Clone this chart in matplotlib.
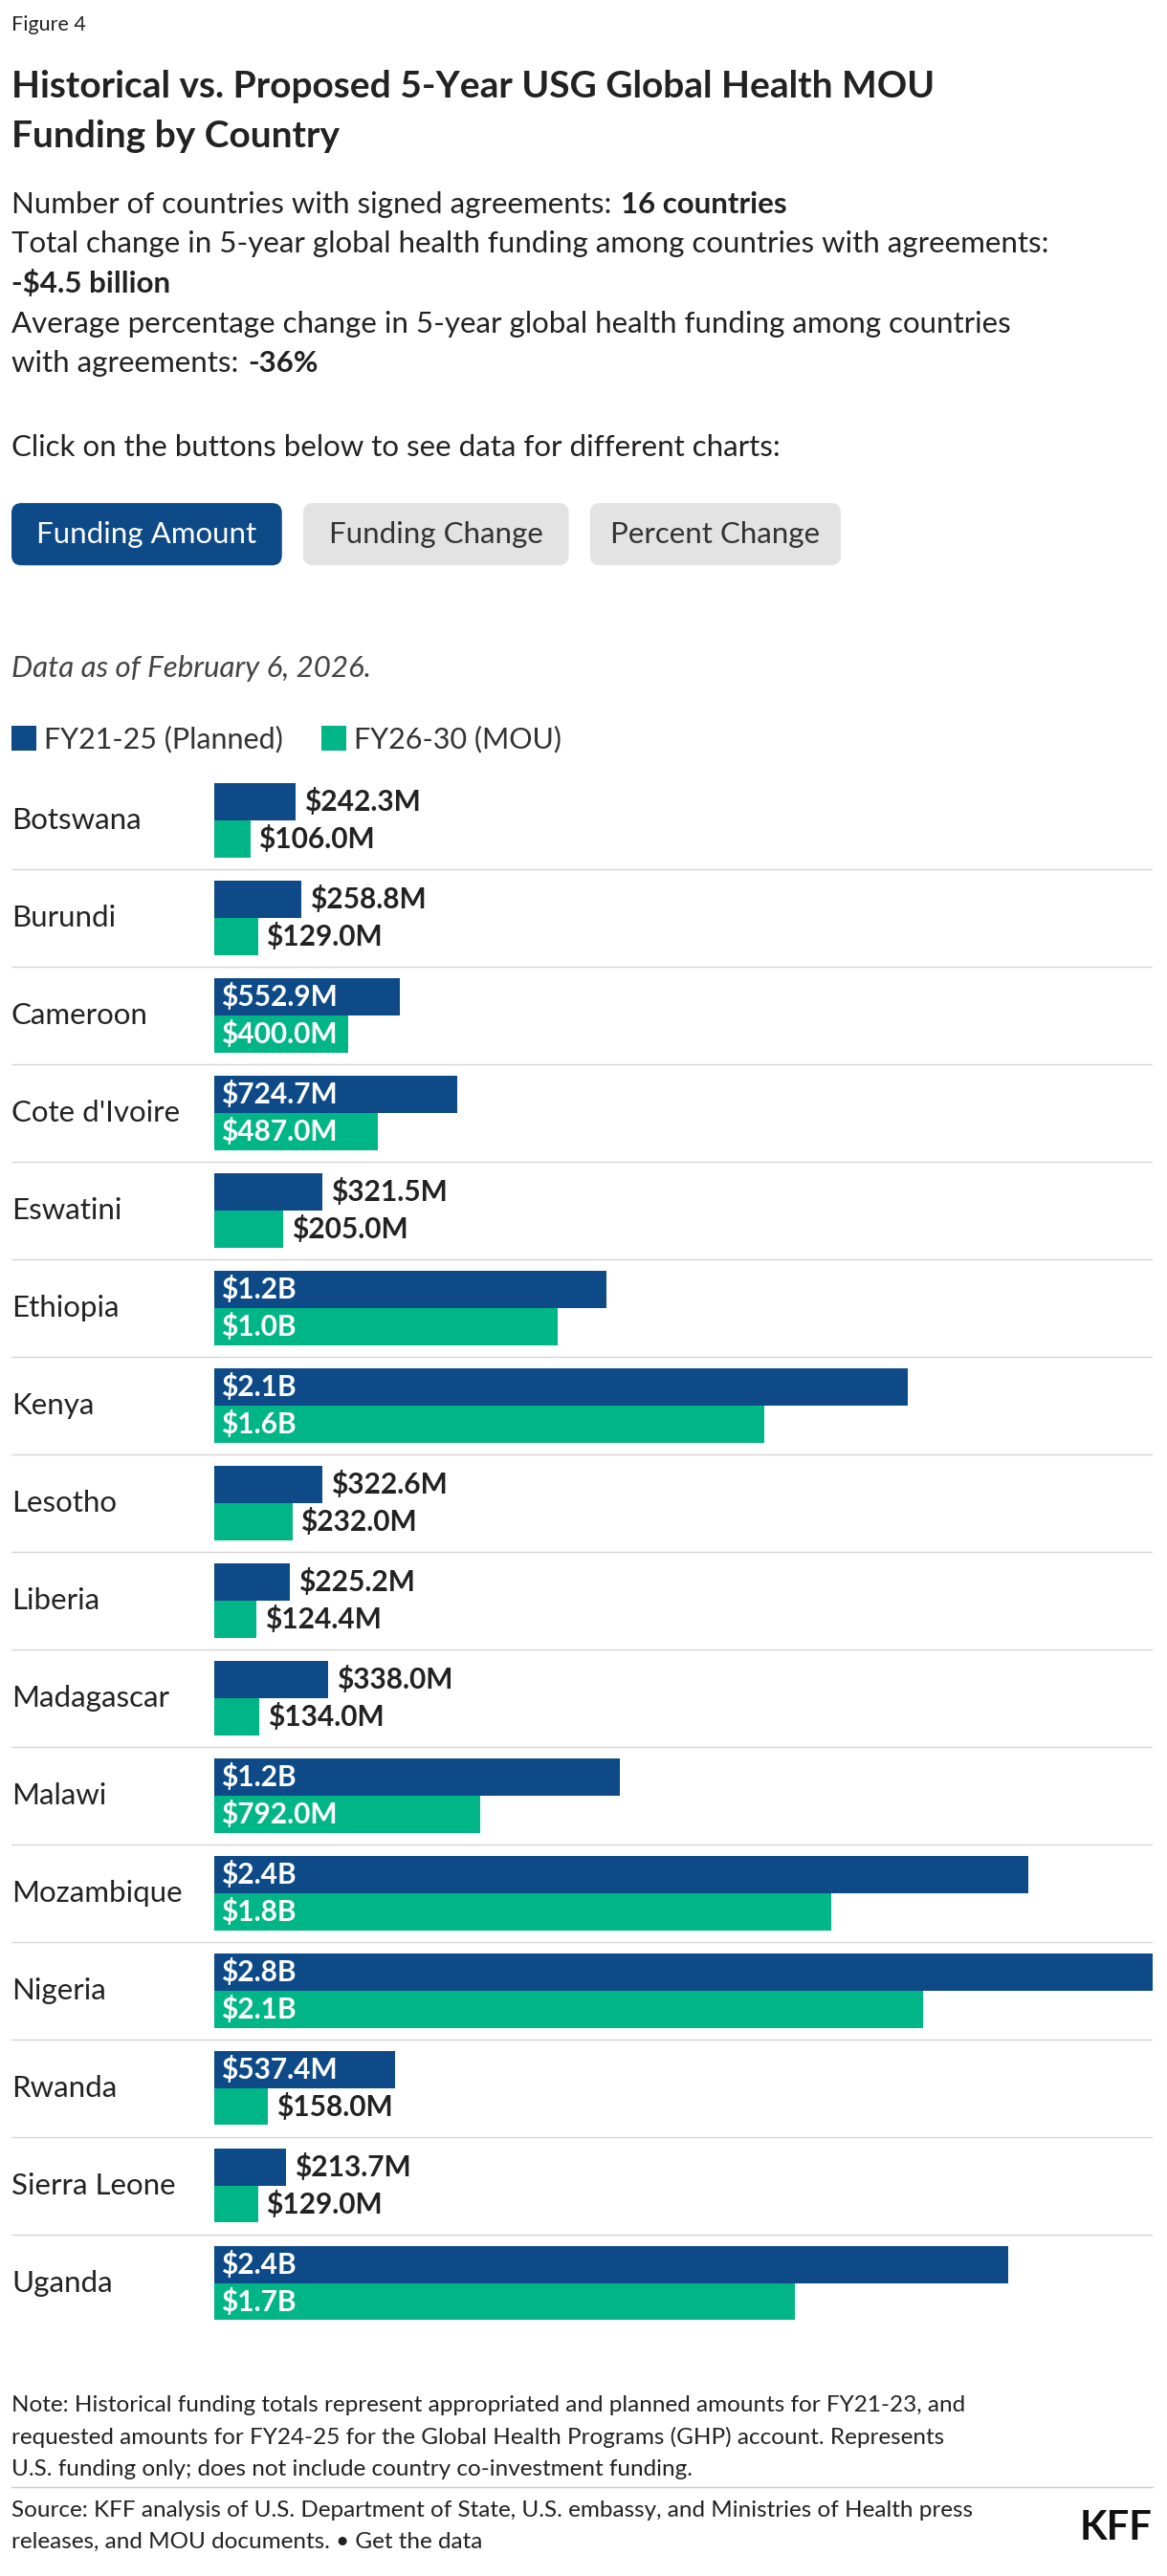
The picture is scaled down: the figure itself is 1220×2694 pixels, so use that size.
import matplotlib
matplotlib.use("Agg")
import matplotlib.pyplot as plt
from matplotlib.patches import FancyBboxPatch, Rectangle

plt.rcParams['font.family'] = ['Lato', 'DejaVu Sans']

countries = ["Botswana", "Burundi", "Cameroon", "Cote d'Ivoire", "Eswatini", "Ethiopia", "Kenya",
             "Lesotho", "Liberia", "Madagascar", "Malawi", "Mozambique", "Nigeria", "Rwanda",
             "Sierra Leone", "Uganda"]
planned = [242.3, 258.8, 552.9, 724.7, 321.5, 1170, 2070, 322.6, 225.2, 338.0, 1209, 2430, 2800, 537.4, 213.7, 2370]
mou = [106.0, 129.0, 400.0, 487.0, 205.0, 1023, 1640, 232.0, 124.4, 134.0, 792.0, 1840, 2115, 158.0, 129.0, 1733]

BLUE = "#0d4a87"
GREEN = "#00b686"
DARK = "#222222"

W, H = 712, 1572
fig = plt.figure(figsize=(12.2, 26.94), dpi=100)
ax0 = fig.add_axes([0, 0, 1, 1])
ax0.set_xlim(0, W); ax0.set_ylim(H, 0); ax0.axis('off')
renderer = fig.canvas.get_renderer()

def t(x, y, s, size, **kw):
    return ax0.text(x, y, s, fontsize=size, va='center', color=kw.pop('color', DARK), **kw)

def t2(x, y, s1, s2, size):
    a = t(x, y, s1, size)
    bb = a.get_window_extent(renderer).transformed(ax0.transData.inverted())
    t(bb.x1 + 1, y, s2, size, weight='bold')

t(7, 15, "Figure 4", 15.5)
t(7, 53, "Historical vs. Proposed 5-Year USG Global Health MOU", 28, weight='bold')
t(7, 83, "Funding by Country", 28, weight='bold')
S = 22.5
t2(7, 125, "Number of countries with signed agreements: ", "16 countries", S)
t(7, 149, "Total change in 5-year global health funding among countries with agreements:", S)
t(7, 173, "-$4.5 billion", S, weight='bold')
t(7, 198, "Average percentage change in 5-year global health funding among countries", S)
t2(7, 222, "with agreements: ", "-36%", S)
t(7, 273, "Click on the buttons below to see data for different charts:", S)

buttons = [("Funding Amount", 7, 172, BLUE, "white"), ("Funding Change", 185, 347, "#e3e3e3", "#333333"),
           ("Percent Change", 360, 513, "#e3e3e3", "#333333")]
for label, x0, x1, fc, tc in buttons:
    ax0.add_patch(FancyBboxPatch((x0 + 4, 311), x1 - x0 - 8, 30, boxstyle="round,pad=4,rounding_size=6",
                                 fc=fc, ec='none'))
    t((x0 + x1) / 2, 326, label, S, ha='center', color=tc)

t(7, 408, "Data as of February 6, 2026.", S, style='italic', color="#444444")
ax0.add_patch(Rectangle((7, 443), 15, 15, fc=BLUE))
t(27, 451, "FY21-25 (Planned)", S - 0.5, color="#333333")
ax0.add_patch(Rectangle((196, 443), 15, 15, fc=GREEN))
t(216, 451, "FY26-30 (MOU)", S - 0.5, color="#333333")

notes = ["Note: Historical funding totals represent appropriated and planned amounts for FY21-23, and",
         "requested amounts for FY24-25 for the Global Health Programs (GHP) account. Represents",
         "U.S. funding only; does not include country co-investment funding."]
for i, n in enumerate(notes):
    t(7, 1468 + i * 19.5, n, 17.5)
ax0.plot([7, 703], [1518, 1518], color="#cccccc", lw=1)
t(7, 1532, "Source: KFF analysis of U.S. Department of State, U.S. embassy, and Ministries of Health press", 17.5)
t(7, 1551, "releases, and MOU documents. • Get the data", 17.5)
t(703, 1543, "KFF", 30, weight='bold', ha='right', color="#111111")

# bar axes
top, bot = 471, 1423
ax = fig.add_axes([7 / W, 1 - bot / H, (703 - 7) / W, (bot - top) / H])
xmax = 2800
xmin = -124 / 572 * xmax
ax.set_xlim(xmin, xmax)
n = len(countries)
ax.set_ylim(n - 0.5, -0.5)
ax.axis('off')
bh = 0.38
for i, (c, p, m) in enumerate(zip(countries, planned, mou)):
    ax.barh(i - bh / 2, p, height=bh, color=BLUE)
    ax.barh(i + bh / 2, m, height=bh, color=GREEN)
    ax.text(xmin, i, c, fontsize=S, va='center', ha='left', color=DARK)
    for v, y in ((p, i - bh / 2), (m, i + bh / 2)):
        s = f"${v/1000:.1f}B" if v >= 1000 else f"${v:.1f}M"
        if v >= 400:
            ax.text(20, y, s, fontsize=21.5, weight='bold', color='white', va='center', ha='left')
        else:
            ax.text(v + 25, y, s, fontsize=21.5, weight='bold', color=DARK, va='center', ha='left')
    if i < n - 1:
        ax.plot([xmin, xmax], [i + 0.5, i + 0.5], color="#d5d5d5", lw=1)

fig.savefig("out.png", dpi=100)
